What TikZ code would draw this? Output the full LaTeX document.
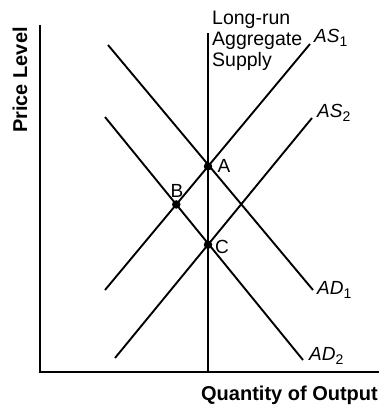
\documentclass[tikz,border=0pt]{standalone}
\usepackage{fontspec}
\setmainfont{Liberation Sans}
\begin{document}
\begin{tikzpicture}[x=1pt,y=-1pt,
  curve/.style={line width=1.9pt},
  axis/.style={line width=2.8pt},
  dot/.style={circle,fill=black,inner sep=0pt,minimum size=8.5pt},
  lbl/.style={font=\fontsize{19}{21}\selectfont,inner sep=0pt},
  curvelbl/.style={font=\fontsize{19}{21}\selectfont\itshape,inner sep=0pt,anchor=west},
  sub/.style={},
  axlbl/.style={font=\fontsize{20}{22}\selectfont\bfseries,inner sep=0pt}]
\newcommand{\sbs}[1]{\raisebox{-0.35ex}{\upshape\fontsize{14}{14}\selectfont #1}}
\useasboundingbox (0,0) rectangle (379,409);
% axes
\coordinate (ytop) at (40,25);
\coordinate (orig) at (40,372);
\coordinate (xend) at (379,372);
\draw[axis] (ytop) -- (orig) -- (xend);
% long-run AS
\coordinate (lr1) at (208,33);
\coordinate (lr2) at (208,372);
\draw[curve] (lr1) -- (lr2);
% curves
\coordinate (as1a) at (105,290); \coordinate (as1b) at (310,44);
\coordinate (as2a) at (115,358); \coordinate (as2b) at (312,118);
\coordinate (ad1a) at (108,45);  \coordinate (ad1b) at (313,290);
\coordinate (ad2a) at (105,117); \coordinate (ad2b) at (303,360);
\draw[curve] (as1a) -- (as1b);
\draw[curve] (as2a) -- (as2b);
\draw[curve] (ad1a) -- (ad1b);
\draw[curve] (ad2a) -- (ad2b);
% intersections
\node[dot] (A) at (intersection of as1a--as1b and lr1--lr2) {};
\node[dot] (B) at (intersection of as1a--as1b and ad2a--ad2b) {};
\node[dot] (C) at (intersection of as2a--as2b and lr1--lr2) {};
\node[lbl] (Al) at (224,166) {A};
\node[lbl] (Bl) at (177,191) {B};
\node[lbl] (Cl) at (222,247) {C};
% labels
\node[lbl,align=left,anchor=north west,font=\fontsize{19.5}{21}\selectfont] (lras) at (212,11) {Long-run\\Aggregate\\Supply};
\node[curvelbl] (as1l) at (314,38) {AS\sbs{1}};
\node[curvelbl] (as2l) at (317,113) {AS\sbs{2}};
\node[curvelbl] (ad1l) at (317,290) {AD\sbs{1}};
\node[curvelbl] (ad2l) at (309,356) {AD\sbs{2}};
\node[axlbl,rotate=90] (yl) at (20,80) {Price Level};
\node[axlbl,anchor=east] (xl) at (378,395) {Quantity of Output};
\end{tikzpicture}
\end{document}
